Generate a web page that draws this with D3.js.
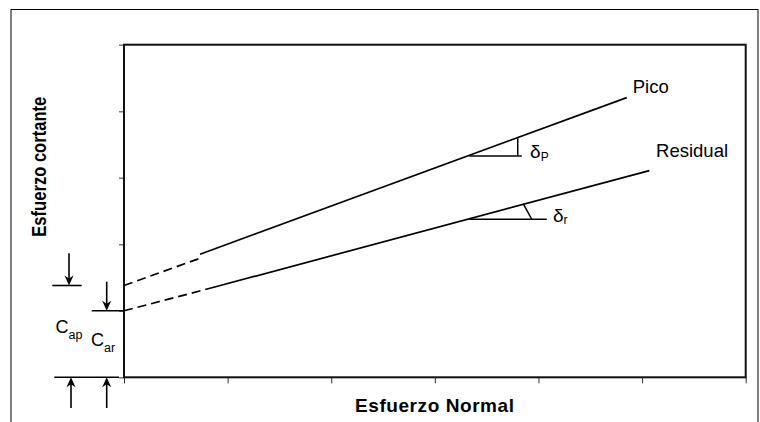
<!DOCTYPE html>
<html>
<head>
<meta charset="utf-8">
<script src="https://cdn.jsdelivr.net/npm/d3@7"></script>
<style>
  html, body { margin: 0; padding: 0; background: #fff; }
  svg { display: block; font-family: "Liberation Sans", Arial, sans-serif; }
</style>
</head>
<body>
<svg id="chart" width="760" height="422"></svg>
<script>
// ---- data (conceptual units: normal stress on x, shear stress on y) ----
const xTickValues = [0, 1, 2, 3, 4, 5, 6];
const yTickValues = [0, 1, 2, 3, 4, 5];
const picoDashed = [[0, 1.38], [0.734, 1.79]];
const picoSolid = [[0.734, 1.85], [4.852, 4.205]];
const residualDashed = [[0, 1.0], [0.83, 1.338]];
const residualSolid = [[0.83, 1.338], [5.07, 3.107]];
const picoAngleBase = [[3.333, 3.328], [3.839, 3.328]];
const picoAngleLeg = [[3.80, 3.328], [3.80, 3.594]];
const residualAngleBase = [[3.333, 2.376], [4.08, 2.376]];
const residualAngleLeg = [[3.935, 2.376], [3.854, 2.606]];
const cohesionPico = 1.38;
const cohesionResidual = 1.0;
const seriesLabels = ["Pico", "Residual"];
const xTitle = "Esfuerzo Normal";
const yTitle = "Esfuerzo cortante";

// ---- layout ----
const svg = d3.select("#chart");
const L = 124, R = 745.7, T = 44.7, B = 377.3;
const x = d3.scaleLinear().domain([0, 6]).range([L, R]);
const y = d3.scaleLinear().domain([0, 5]).range([B, T]);

// outer frame
svg.append("rect").attr("x", 11).attr("y", 9.5).attr("width", 747).attr("height", 430)
  .attr("fill", "none").attr("stroke", "#000").attr("stroke-width", 1);

// axes (ticks only, no labels)
const gx = svg.append("g").attr("transform", `translate(0,${B})`)
  .call(d3.axisBottom(x).tickValues(xTickValues).tickSize(6).tickFormat(""));
const gy = svg.append("g").attr("transform", `translate(${L},0)`)
  .call(d3.axisLeft(y).tickValues(yTickValues).tickSize(5).tickFormat(""));
gx.select(".domain").remove();
gy.select(".domain").remove();
gx.selectAll(".tick line").attr("stroke", "#333").attr("stroke-width", 1);
gy.selectAll(".tick line").attr("stroke", "#777").attr("stroke-width", 1.5);

// plot frame
svg.append("rect").attr("x", L).attr("y", T).attr("width", R - L).attr("height", B - T)
  .attr("fill", "none").attr("stroke", "#111").attr("stroke-width", 2);

const line = d3.line().x(d => x(d[0])).y(d => y(d[1]));
function draw(data, dashed, w) {
  svg.append("path").datum(data).attr("d", line).attr("fill", "none")
    .attr("stroke", "#000").attr("stroke-width", w || 1.7)
    .attr("stroke-dasharray", dashed ? "9,5" : null);
}
draw(picoDashed, true);
draw(picoSolid, false);
draw(residualDashed, true);
draw(residualSolid, false);
draw(picoAngleBase, false, 1.5);
draw(picoAngleLeg, false, 1.5);
draw(residualAngleBase, false, 1.5);
draw(residualAngleLeg, false, 1.5);

// series labels
svg.append("text").attr("x", x(4.91)).attr("y", y(4.27)).attr("font-size", 18.5).text(seriesLabels[0]);
svg.append("text").attr("x", x(5.135)).attr("y", y(3.317)).attr("font-size", 18.5).text(seriesLabels[1]);

// angle labels
function angleLabel(xv, yv, sub) {
  const t = svg.append("text").attr("x", x(xv)).attr("y", y(yv)).attr("font-size", 19);
  t.append("tspan").text("δ");
  t.append("tspan").attr("font-size", 12).attr("dy", 2.5).text(sub);
}
angleLabel(3.919, 3.29, "P");
angleLabel(4.14, 2.34, "r");

// cohesion annotations
function hline(x1, x2, yy) {
  svg.append("line").attr("x1", x1).attr("x2", x2).attr("y1", yy).attr("y2", yy)
    .attr("stroke", "#000").attr("stroke-width", 1.6);
}
function arrow(xx, yFrom, yTo) {
  svg.append("line").attr("x1", xx).attr("x2", xx).attr("y1", yFrom)
    .attr("y2", yTo + (yTo > yFrom ? -6 : 6)).attr("stroke", "#000").attr("stroke-width", 1.6);
  const dir = yTo > yFrom ? -1 : 1;
  svg.append("path")
    .attr("d", `M${xx},${yTo} L${xx - 4.5},${yTo + dir * 10} L${xx},${yTo + dir * 7} L${xx + 4.5},${yTo + dir * 10} Z`)
    .attr("fill", "#000");
}
hline(52.3, 81.7, y(cohesionPico));
hline(91.7, L, y(cohesionResidual));
hline(54.3, 119, y(0));
arrow(69, 253.3, y(cohesionPico));
arrow(106.7, 281.7, y(cohesionResidual));
arrow(71, 408, y(0));
arrow(106.7, 408, y(0));

function cLabel(xx, yy, sub) {
  const t = svg.append("text").attr("x", xx).attr("y", yy).attr("font-size", 18);
  t.append("tspan").text("C");
  t.append("tspan").attr("font-size", 12.5).attr("dy", 6).text(sub);
}
cLabel(55.5, 333.3, "ap");
cLabel(91, 346, "ar");

// axis titles
svg.append("text").attr("x", 355).attr("y", 412.3).attr("font-size", 19).attr("font-weight", "bold")
  .attr("textLength", 159).attr("lengthAdjust", "spacing").text(xTitle);
svg.append("text").attr("transform", "translate(45.5,236.7) rotate(-90)")
  .attr("font-size", 20).attr("font-weight", "bold")
  .attr("textLength", 140).attr("lengthAdjust", "spacingAndGlyphs").text(yTitle);
</script>
</body>
</html>
